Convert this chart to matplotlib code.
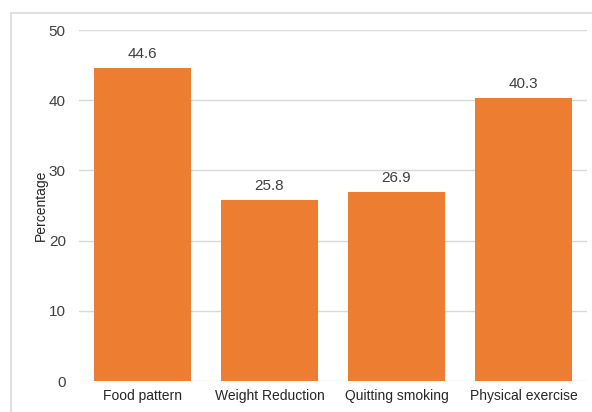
import matplotlib.pyplot as plt
from matplotlib.patches import Rectangle

# Survey categories and the share of respondents (%)
categories = ["Food pattern", "Weight Reduction", "Quitting smoking", "Physical exercise"]
values = [44.6, 25.8, 26.9, 40.3]
yticks = [0, 10, 20, 30, 40, 50]

plt.rcParams['font.family'] = ['Liberation Sans', 'DejaVu Sans']

fig = plt.figure(figsize=(5.92, 4.12), dpi=100)
ax = fig.add_axes([0.1334, 0.0752, 0.8582, 0.8518])

# light frame round the whole chart
fig.patches.append(Rectangle((11 / 592, -0.1), 1.2, 1 - 13 / 412 + 0.1,
                             transform=fig.transFigure, fill=False,
                             edgecolor='#d9d9d9', linewidth=1.2))

bars = ax.bar(range(len(categories)), values, width=0.765, color='#ED7D31', zorder=3)
for b, v in zip(bars, values):
    ax.annotate(f"{v:.1f}", (b.get_x() + b.get_width() / 2, v), xytext=(0, 5),
                textcoords='offset points', ha='center', va='bottom',
                fontsize=11, color='#404040')

ax.set_xlim(-0.5, len(categories) - 0.5)
ax.set_ylim(0, 50)
ax.set_yticks(yticks)
ax.set_xticks(range(len(categories)))
ax.set_xticklabels(categories, fontsize=10, color='#262626')
ax.tick_params(axis='y', length=0, pad=9.5, labelsize=11, labelcolor='#404040')
ax.tick_params(axis='x', length=0, pad=6)
ax.yaxis.grid(True, color='#d9d9d9', linewidth=1)
ax.set_axisbelow(True)
for s in ax.spines.values():
    s.set_visible(False)
ax.set_ylabel("Percentage", fontsize=10, color='#262626', labelpad=1)

fig.savefig("out.png", dpi=100)
